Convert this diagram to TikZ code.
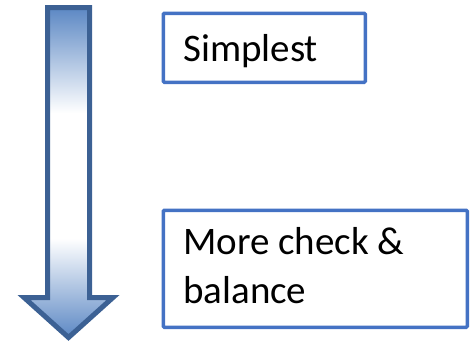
\documentclass[tikz,border=0pt]{standalone}
\usepackage{fontspec}
\setmainfont{Carlito}
\definecolor{ablue}{HTML}{5C88C4}
\definecolor{aedge}{HTML}{3C6194}
\definecolor{bblue}{HTML}{4472C4}
\pgfdeclareverticalshading{arrowshade}{100bp}{color(0bp)=(ablue); color(25bp)=(ablue); color(40bp)=(white); color(59bp)=(white); color(75bp)=(ablue); color(100bp)=(ablue)}
\tikzset{
  textbox/.style={draw=bblue, line width=3.5pt, rounded corners=1pt, anchor=north west,
    align=flush left, inner xsep=20pt, inner ysep=0pt, font=\fontsize{39}{48.5}\selectfont},
  bigarrow/.style={draw=aedge, line width=5pt, line join=miter, shading=arrowshade}
}
\begin{document}
\begin{tikzpicture}[x=1pt,y=-1pt]
\useasboundingbox (0,0) rectangle (471,343);
\path[bigarrow] (47.5,7.5) -- (89.5,7.5) -- (89.5,297.5) -- (113,297.5) -- (68.5,337.5) -- (24,297.5) -- (47.5,297.5) -- cycle;
\node[textbox, minimum width=202pt, minimum height=69pt, text width=162pt, text height=30pt, text depth=2pt] (b1) at (161.5,11.5) {Simplest};
\node[textbox, minimum width=304pt, minimum height=117pt, text width=264pt, text height=30pt, text depth=58pt] (b2) at (161.5,208.5) {More check \&\\balance};
\end{tikzpicture}
\end{document}
